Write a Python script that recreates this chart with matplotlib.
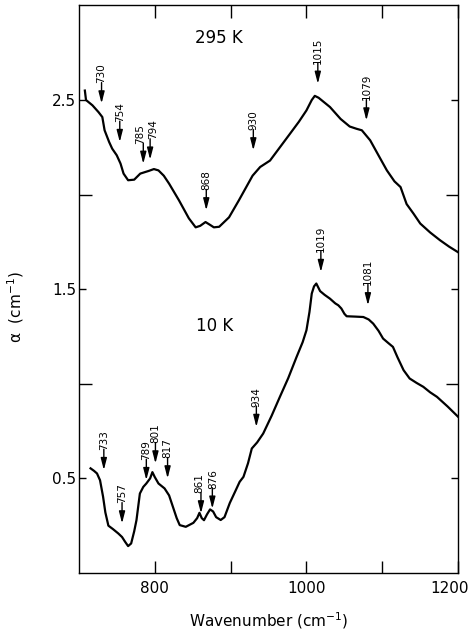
import matplotlib
matplotlib.use("Agg")
import matplotlib.pyplot as plt
from matplotlib.ticker import FixedLocator
from matplotlib.transforms import ScaledTranslation

plt.rcParams['font.family'] = ['Liberation Sans Narrow', 'DejaVu Sans']

# absorption spectrum at room temperature
wn_295 = [708, 709.5, 718, 726, 731, 734, 740, 744, 750, 755, 759, 765, 773, 781, 788,
          792, 799, 805, 812, 819, 832, 845, 854, 860, 867, 873, 878, 885, 898, 911,
          929, 939, 952, 965, 978, 990, 1000, 1007, 1011, 1016, 1031, 1045, 1057,
          1066, 1073, 1084, 1096, 1106, 1116, 1124, 1132, 1141, 1150, 1163, 1176,
          1188, 1200]
alpha_295 = [2.55, 2.50, 2.472, 2.436, 2.41, 2.34, 2.278, 2.243, 2.208, 2.164, 2.111,
             2.076, 2.079, 2.111, 2.12, 2.125, 2.135, 2.128, 2.10, 2.058, 1.97, 1.875,
             1.827, 1.835, 1.855, 1.84, 1.827, 1.83, 1.88, 1.97, 2.10, 2.146, 2.18,
             2.25, 2.32, 2.385, 2.445, 2.50, 2.522, 2.512, 2.463, 2.40, 2.36, 2.348,
             2.34, 2.287, 2.20, 2.128, 2.07, 2.04, 1.95, 1.90, 1.847, 1.80, 1.759,
             1.725, 1.695]

# absorption spectrum at 10 K
wn_10 = [715.5, 720, 724, 728, 732, 735, 739, 745, 752, 757, 761, 765, 769, 773, 776,
         780.5, 785, 789, 794, 797, 800, 805, 813, 819, 824, 829, 833, 841, 851, 856,
         859, 862, 865, 869, 873, 877, 881, 887, 892, 899, 906, 912, 917, 923, 928,
         935, 943, 954, 965, 976, 987, 995, 1000, 1004, 1007, 1010, 1013, 1018, 1024,
         1031, 1038, 1042, 1046, 1050, 1053, 1065, 1075, 1082, 1088, 1095, 1101,
         1108, 1114, 1120, 1128, 1136, 1145, 1154, 1163, 1172, 1186, 1200]
alpha_10 = [0.553, 0.54, 0.526, 0.49, 0.403, 0.32, 0.25, 0.232, 0.209, 0.19, 0.165,
            0.142, 0.156, 0.22, 0.279, 0.42, 0.455, 0.473, 0.50, 0.533, 0.508, 0.473,
            0.447, 0.41, 0.35, 0.29, 0.253, 0.244, 0.265, 0.29, 0.318, 0.29, 0.279,
            0.31, 0.336, 0.325, 0.295, 0.28, 0.295, 0.37, 0.43, 0.482, 0.508, 0.58,
            0.658, 0.69, 0.737, 0.83, 0.931, 1.03, 1.142, 1.22, 1.283, 1.38, 1.477,
            1.515, 1.53, 1.49, 1.47, 1.45, 1.425, 1.415, 1.398, 1.37, 1.357, 1.355,
            1.353, 1.34, 1.318, 1.28, 1.239, 1.215, 1.195, 1.14, 1.072, 1.028, 1.005,
            0.984, 0.955, 0.931, 0.88, 0.825]

# band positions marked with arrows (wavenumber, arrow tip height)
bands_295 = [730, 754, 785, 794, 868, 930, 1015, 1079]
tips_295 = [2.482, 2.278, 2.163, 2.185, 1.917, 2.234, 2.586, 2.392]
bands_10 = [733, 757, 789, 801, 817, 861, 876, 934, 1019, 1081]
tips_10 = [0.544, 0.262, 0.491, 0.579, 0.50, 0.315, 0.34, 0.772, 1.591, 1.415]

# sideways nudge (points) for labels that sit close together
nudge = {785: -2.5, 794: 2.5, 861: -1.0, 876: 1.0}

fig = plt.figure(figsize=(4.69, 6.32), dpi=100)
ax = fig.add_axes([0.168, 0.0934, 0.809, 0.898])

ax.plot(wn_295, alpha_295, color="black", lw=1.6)
ax.plot(wn_10, alpha_10, color="black", lw=1.6)

for bands, tips in [(bands_295, tips_295), (bands_10, tips_10)]:
    for b, t in zip(bands, tips):
        ax.annotate("", xy=(b, t), xytext=(0, 15), textcoords="offset points",
                    arrowprops=dict(arrowstyle="-|>,head_length=0.7,head_width=0.18",
                                    color="black", lw=1.0, shrinkA=0, shrinkB=0,
                                    mutation_scale=10))
        ax.annotate(str(b), xy=(b, t), xytext=(nudge.get(b, 0), 14.5),
                    textcoords="offset points", rotation=90, ha="center",
                    va="bottom", fontsize=7.5)

ax.text(884, 2.826, "295 K", ha="center", va="center", fontsize=12)
ax.text(879, 1.304, "10 K", ha="center", va="center", fontsize=12)

ax.set_xlim(700, 1200)
ax.set_ylim(0, 3)
ax.set_xticks([800, 1000, 1200])
ax.xaxis.set_minor_locator(FixedLocator([900, 1100]))
ax.set_yticks([0.5, 1.5, 2.5])
ax.set_yticklabels(["0.5", "1.5", "2.5"])
ax.yaxis.set_minor_locator(FixedLocator([1.0, 2.0]))
ax.tick_params(which="both", direction="in", top=True, right=True, labelsize=11,
               width=1.0)
ax.tick_params(axis="x", which="both", length=9, pad=6)
ax.tick_params(axis="y", which="major", length=5, pad=2)
ax.tick_params(axis="y", which="minor", length=9)
for s in ax.spines.values():
    s.set_linewidth(1.0)

# keep the last x label inside the figure
last = ax.get_xticklabels()[-1]
last.set_transform(last.get_transform() + ScaledTranslation(-6 / 72, 0, fig.dpi_scale_trans))

ax.set_xlabel("Wavenumber (cm$^{-1}$)", fontsize=11, labelpad=10)
ax.set_ylabel("α  (cm$^{-1}$)", fontsize=11)
ax.yaxis.set_label_coords(-0.14, 0.468)

fig.savefig("out.png", dpi=100)
